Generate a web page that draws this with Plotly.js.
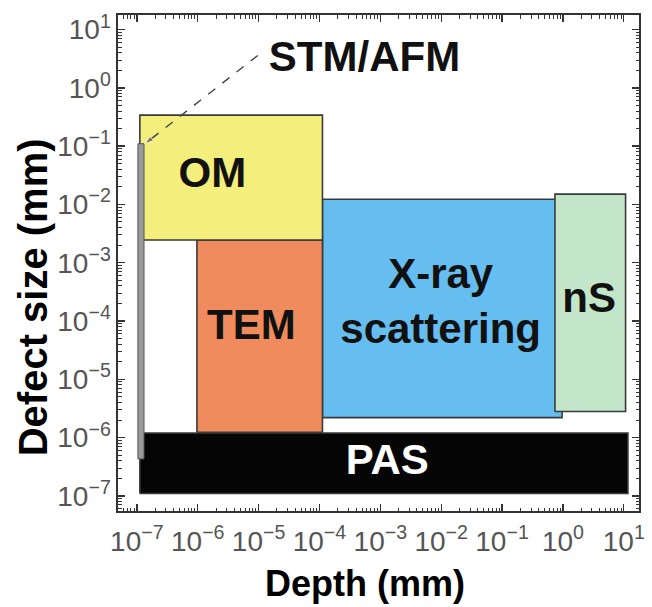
<!DOCTYPE html>
<html><head><meta charset="utf-8">
<script src="https://cdn.plot.ly/plotly-3.0.1.min.js"></script>
<style>html,body{margin:0;padding:0;background:#fff}#chart{width:652px;height:607px}</style>
</head><body><div id="chart"></div>
<script>
// ---- data ----
const boxNames  = ['PAS', 'X-ray scattering', 'nS', 'TEM', 'OM'];
const depthMin  = [1.12e-7, 1.12e-4, 0.74, 9.7e-7, 1.12e-7];
const depthMax  = [11.7, 0.97, 10.7, 1.12e-4, 1.12e-4];
const sizeMin   = [1.1e-7, 2.2e-6, 2.8e-6, 1.23e-6, 2.45e-3];
const sizeMax   = [1.2e-6, 1.23e-2, 1.5e-2, 2.45e-3, 3.4e-1];
const boxColors = ['#050505', '#66bdf0', '#c3e5c9', '#ef8b5c', '#f4ee7c'];

const stmDepth = [1.04e-7, 1.31e-7];
const stmSize  = [4.3e-7, 0.11];

const labelText  = ['PAS', 'X-ray<br>scattering', 'nS', 'TEM', 'OM', 'STM/AFM'];
const labelDepth = [1.3e-3, 9.8e-3, 2.7, 7.6e-6, 1.74e-6, 5.5e-4];
const labelSize  = [3.6e-7, 1.9e-4, 2.2e-4, 7.4e-5, 3.0e-2, 3.0];
const labelColor = ['#ffffff', '#111', '#111', '#111', '#111', '#111'];

const leaderDepth = [9.7e-6, 1.36e-7];
const leaderSize  = [3.6, 0.11];

const xTitle = 'Depth (mm)';
const yTitle = 'Defect size (mm)';

const tickVals = [1e-7, 1e-6, 1e-5, 1e-4, 1e-3, 1e-2, 1e-1, 1, 10];
const tickText = ['10<sup>−7</sup>','10<sup>−6</sup>','10<sup>−5</sup>','10<sup>−4</sup>','10<sup>−3</sup>','10<sup>−2</sup>','10<sup>−1</sup>','10<sup>0</sup>','10<sup>1</sup>'];

// minor tick positions (2..9 within each decade)
const minorVals = [];
for (let e = -8; e <= 1; e++) for (let m = 2; m <= 9; m++) minorVals.push(m * Math.pow(10, e));

const FONT = 'Liberation Sans, Arial, sans-serif';
const traces = [];
boxNames.forEach((name, i) => {
  traces.push({
    type: 'scatter', mode: 'lines', fill: 'toself', name: name,
    x: [depthMin[i], depthMax[i], depthMax[i], depthMin[i], depthMin[i]],
    y: [sizeMin[i], sizeMin[i], sizeMax[i], sizeMax[i], sizeMin[i]],
    fillcolor: boxColors[i],
    line: {color: '#3a3a3a', width: 1.6},
    hoverinfo: 'name', showlegend: false
  });
});
traces.push({
  type: 'scatter', mode: 'lines', fill: 'toself', name: 'STM/AFM',
  x: [stmDepth[0], stmDepth[1], stmDepth[1], stmDepth[0], stmDepth[0]],
  y: [stmSize[0], stmSize[0], stmSize[1], stmSize[1], stmSize[0]],
  fillcolor: '#9a9a9a', line: {color: '#555', width: 1},
  showlegend: false
});
traces.push({
  type: 'scatter', mode: 'lines+markers', x: leaderDepth, y: leaderSize,
  line: {color: '#444', width: 1.4, dash: 'dash'},
  marker: {symbol: ['circle', 'arrow'], size: [0, 9], angleref: 'previous', color: '#444'},
  showlegend: false, hoverinfo: 'skip'
});
traces.push({
  type: 'scatter', mode: 'text', x: labelDepth, y: labelSize, text: labelText,
  textposition: 'middle center',
  textfont: {family: FONT, size: 42, weight: 'bold', color: labelColor},
  showlegend: false, hoverinfo: 'skip'
});

const axisCommon = {
  type: 'log', tickmode: 'array', tickvals: tickVals, ticktext: tickText,
  ticks: 'inside', ticklen: 7, tickwidth: 1.3, tickcolor: '#333',
  mirror: 'allticks', showline: true, linecolor: '#333', linewidth: 1.6,
  showgrid: false, zeroline: false, ticklabeloverflow: 'allow',
  minor: {tickmode: 'array', tickvals: minorVals, ticks: 'inside', ticklen: 3.5, tickwidth: 1, tickcolor: '#333', showgrid: false},
  tickfont: {family: FONT, size: 28, color: '#555'}
};

const layout = {
  width: 652, height: 607,
  margin: {l: 118, r: 13, t: 15, b: 96},
  paper_bgcolor: '#fff', plot_bgcolor: '#fff',
  showlegend: false,
  xaxis: Object.assign({}, axisCommon, {range: [-7.31, 1.25], ticklabelstandoff: 5}),
  yaxis: Object.assign({}, axisCommon, {range: [-7.26, 1.25]}),
  annotations: [
    {text: xTitle, xref: 'paper', yref: 'paper', x: 0.474, y: -0.147, xanchor: 'center', yanchor: 'middle',
     showarrow: false, font: {family: FONT, size: 36, weight: 'bold', color: '#000'}},
    {text: yTitle, xref: 'paper', yref: 'paper', x: -0.163, y: 0.431, xanchor: 'center', yanchor: 'middle',
     textangle: -90, showarrow: false, font: {family: FONT, size: 40, weight: 'bold', color: '#000'}}
  ]
};

Plotly.newPlot('chart', traces, layout, {staticPlot: true, displayModeBar: false});
</script>
</body></html>
